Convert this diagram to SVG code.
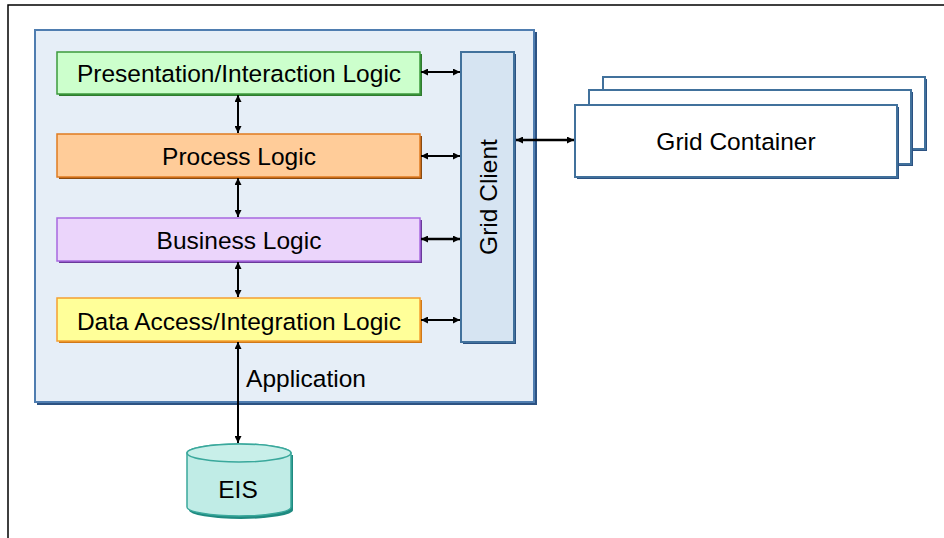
<svg xmlns="http://www.w3.org/2000/svg" width="944" height="538" viewBox="0 0 944 538">
<defs>
<marker id="ah" viewBox="0 0 10 10" refX="10" refY="5" markerWidth="8" markerHeight="7" markerUnits="userSpaceOnUse" orient="auto-start-reverse">
<path d="M0,0 L10,5 L0,10 z" fill="#000"/>
</marker>
<style>
text{font-family:"Liberation Sans",Arial,sans-serif;font-size:24.5px;fill:#000;text-anchor:middle;dominant-baseline:central}
.con{stroke:#000;stroke-width:2;fill:none;marker-start:url(#ah);marker-end:url(#ah)}
.thick{stroke-width:2.5}
.blue{stroke:#41719c;stroke-width:2}
</style>
</defs>
<rect width="944" height="538" fill="#fff"/>
<path d="M8,538 V5 H944" fill="none" stroke="#000" stroke-width="1.5"/>

<g id="application">
<rect x="37" y="32" width="500" height="373" fill="#2c5282"/>
<rect x="35" y="30" width="499" height="372" fill="#e6eef7" stroke="#4f7db0" stroke-width="2"/>
<text x="306" y="378">Application</text>
</g>

<g id="presentation">
<rect x="59" y="54" width="363" height="42" fill="#2f7a2f"/>
<rect x="57" y="52" width="363" height="42" fill="#ccffcc" stroke="#3d9a3d" stroke-width="1.5"/>
<text x="239" y="73">Presentation/Interaction Logic</text>
</g>

<g id="process">
<rect x="59" y="136" width="363" height="43" fill="#8a4a10"/>
<rect x="57" y="134" width="363" height="43" fill="#ffcc99" stroke="#e07b20" stroke-width="1.5"/>
<text x="239" y="156">Process Logic</text>
</g>

<g id="business">
<rect x="59" y="220" width="363" height="43" fill="#6a3a9a"/>
<rect x="57" y="218" width="363" height="43" fill="#ebd5fb" stroke="#a868e0" stroke-width="1.5"/>
<text x="239" y="240">Business Logic</text>
</g>

<g id="dataaccess">
<rect x="59" y="300" width="363" height="43" fill="#d07818"/>
<rect x="57" y="298" width="363" height="43" fill="#ffff99" stroke="#f5a030" stroke-width="1.5"/>
<text x="239" y="321">Data Access/Integration Logic</text>
</g>

<g id="gridclient">
<rect x="463" y="54" width="53" height="290" fill="#2c5282"/>
<rect x="461" y="52" width="53" height="290" fill="#d6e4f2" class="blue"/>
<text x="488" y="197" transform="rotate(-90 488 197)">Grid Client</text>
</g>

<g id="gridcontainer">
<rect x="605" y="79" width="322" height="72" fill="#2c5282"/>
<rect x="603" y="77" width="322" height="72" fill="#fff" class="blue"/>
<rect x="591" y="92" width="322" height="74" fill="#2c5282"/>
<rect x="589" y="90" width="322" height="74" fill="#fff" class="blue"/>
<rect x="577" y="107" width="322" height="72" fill="#2c5282"/>
<rect x="575" y="105" width="322" height="72" fill="#fff" class="blue"/>
<text x="736" y="141">Grid Container</text>
</g>

<g id="eis">
<path d="M189,455 V510 A52,9 0 0 0 293,510 V455 Z" fill="#1f8a80"/>
<path d="M187,453 V507 A52,9 0 0 0 291,507 V453 A52,9 0 0 0 187,453 Z" fill="#c0ece6" stroke="#3aa89c" stroke-width="1.5"/>
<ellipse cx="239" cy="453" rx="52" ry="9" fill="#c8efe9" stroke="#3aa89c" stroke-width="1.5"/>
<text x="238" y="489">EIS</text>
</g>

<g id="connectors">
<line class="con" x1="421" y1="72" x2="460" y2="72"/>
<line class="con" x1="421" y1="156" x2="460" y2="156"/>
<line class="con thick" x1="421" y1="239" x2="460" y2="239"/>
<line class="con" x1="421" y1="320" x2="460" y2="320"/>
<line class="con" x1="238" y1="95" x2="238" y2="133"/>
<line class="con" x1="238" y1="178" x2="238" y2="217"/>
<line class="con" x1="238" y1="262" x2="238" y2="297"/>
<line class="con" x1="238" y1="342" x2="238" y2="443"/>
<line class="con thick" x1="516" y1="140" x2="574" y2="140"/>
</g>
</svg>
